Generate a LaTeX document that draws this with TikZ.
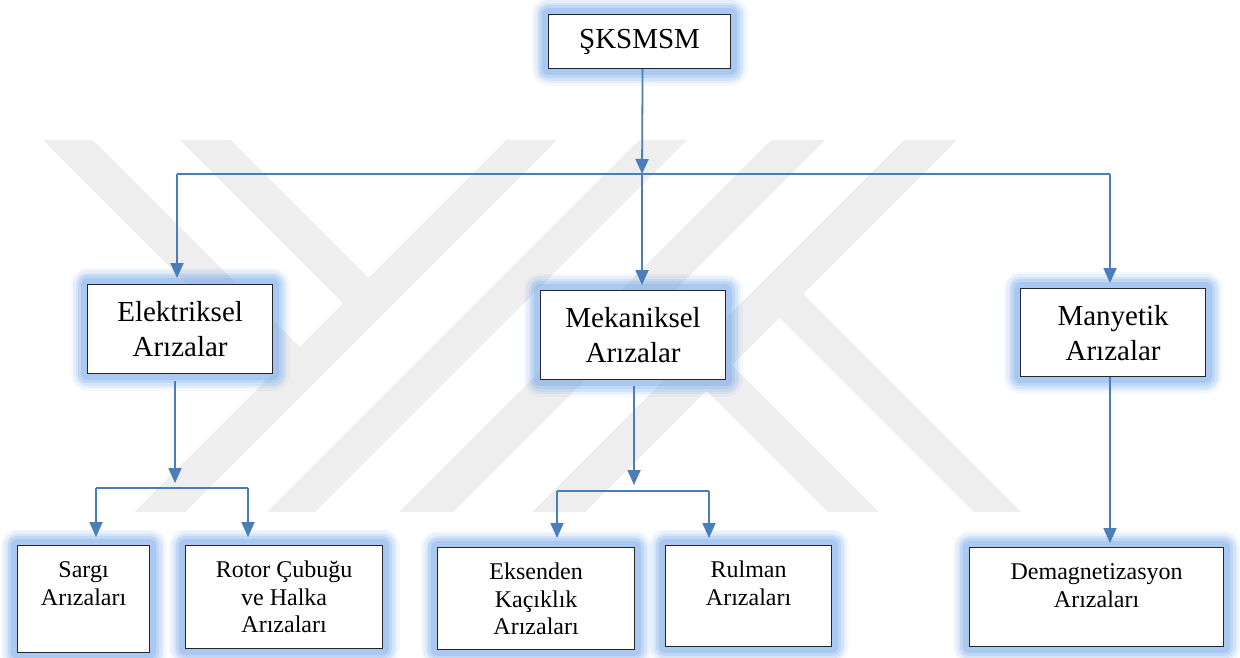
\documentclass[tikz,border=0pt]{standalone}
\usepackage{fontspec}
\setmainfont{Liberation Serif}
\usetikzlibrary{arrows.meta}
\definecolor{lineblue}{RGB}{74,126,187}
\definecolor{glowblue}{RGB}{125,172,235}
\definecolor{wm}{RGB}{238,238,238}
\tikzset{
  glow/.style={
    preaction={draw=glowblue, line width=34pt, opacity=0.08, line join=round},
    preaction={draw=glowblue, line width=29pt, opacity=0.12, line join=round},
    preaction={draw=glowblue, line width=24pt, opacity=0.17, line join=round},
    preaction={draw=glowblue, line width=19pt, opacity=0.24, line join=round},
    preaction={draw=glowblue, line width=13pt, opacity=0.32, line join=round}},
  box/.style={glow, rectangle, draw=black!85, line width=1.2pt, fill=white, inner sep=0pt, anchor=north west},
  conn/.style={draw=lineblue, line width=1.8pt},
  arr/.style={conn, -{Triangle[length=15pt,width=13pt]}},
  wmstripe/.style={fill=wm, draw=none},
}
\newcommand{\topbox}[3]{\parbox[c][#2][c]{#1}{\centering\fontsize{29}{35}\selectfont #3}}
\newcommand{\lowbox}[3]{\parbox[c][#2][t]{#1}{\centering\fontsize{24}{27.5}\selectfont\rule{0pt}{32pt}#3}}
\begin{document}
\begin{tikzpicture}[x=1pt,y=-1pt]
\useasboundingbox (0,0) rectangle (1240,657);
% watermark
\fill[wmstripe] (43,140) -- (93,140) -- (311.5,358.5) -- (286.5,383.5) -- cycle;
\fill[wmstripe] (180,140) -- (231,140) -- (380.5,289.5) -- (355,315) -- cycle;
\fill[wmstripe] (506,140) -- (557,140) -- (185,512) -- (134,512) -- cycle;
\fill[wmstripe] (639,140) -- (687,140) -- (315,512) -- (267,512) -- cycle;
\fill[wmstripe] (771,140) -- (825,140) -- (453,512) -- (399,512) -- cycle;
\fill[wmstripe] (904,140) -- (957,140) -- (585,512) -- (532,512) -- cycle;
\fill[wmstripe] (628,312) -- (653.5,286.5) -- (879,512) -- (828,512) -- cycle;
\fill[wmstripe] (766,304) -- (789.5,280.5) -- (1021,512) -- (974,512) -- cycle;
% boxes
\node[box] (root) at (548,14) {\topbox{182pt}{54pt}{ŞKSMSM}};
\node[box] (elek) at (87,284) {\topbox{185pt}{89pt}{Elektriksel\\Arızalar}};
\node[box] (mek) at (540,290) {\topbox{185pt}{89pt}{Mekaniksel\\Arızalar}};
\node[box] (man) at (1020,288) {\topbox{185pt}{88pt}{Manyetik\\Arızalar}};
\node[box] (sarg) at (17,545) {\lowbox{132pt}{107pt}{Sargı\\Arızaları}};
\node[box] (rotor) at (185,545) {\lowbox{197pt}{103pt}{Rotor Çubuğu\\ve Halka\\Arızaları}};
\node[box] (eks) at (437,547) {\lowbox{197pt}{102pt}{Eksenden\\Kaçıklık\\Arızaları}};
\node[box] (rul) at (665,545) {\lowbox{166pt}{101pt}{Rulman\\Arızaları}};
\node[box] (dem) at (969,547) {\lowbox{254pt}{99pt}{Demagnetizasyon\\Arızaları}};
% junctions
\coordinate (J) at (642,174);
\coordinate (JL) at (177,174);
\coordinate (JR) at (1110,174);
\coordinate (JE) at (175,488);
\coordinate (JM) at (634,491);
\coordinate (E1) at (96,488);
\coordinate (E2) at (248,488);
\coordinate (M1) at (557,491);
\coordinate (M2) at (709,491);
\coordinate (MD) at (1110,376);
% connectors
\draw[arr] ([xshift=3pt]root.south) -- (J);
\draw[conn] (JL) -- (JR);
\draw[arr, shorten >=6pt] (JL) -- (JL |- elek.north);
\draw[arr, shorten >=5pt] (J) -- (J |- mek.north);
\draw[arr, shorten >=5pt] (JR) -- (JR |- man.north);
\draw[arr, shorten <=7pt] (JE |- elek.south) -- ([yshift=5pt]JE);
\draw[conn] (E1) -- (E2);
\draw[arr, shorten >=8pt] (E1) -- (E1 |- sarg.north);
\draw[arr, shorten >=8pt] (E2) -- (E2 |- rotor.north);
\draw[arr, shorten <=6pt] (JM |- mek.south) -- ([yshift=6pt]JM);
\draw[conn] (M1) -- (M2);
\draw[arr, shorten >=9pt] (M1) -- (M1 |- eks.north);
\draw[arr, shorten >=7pt] (M2) -- (M2 |- rul.north);
\draw[arr, shorten >=4pt] (MD |- man.south) -- (MD |- dem.north);
\end{tikzpicture}
\end{document}
